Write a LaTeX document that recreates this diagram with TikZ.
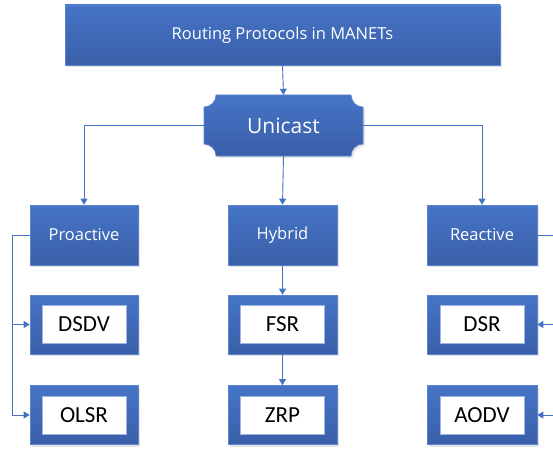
\documentclass[tikz,border=0pt]{standalone}
\usepackage{fontspec}
\setmainfont{Open Sans}
\newfontfamily\leaffont{Carlito}
\usetikzlibrary{arrows.meta,shadows}
\definecolor{conn}{HTML}{4472C4}
\definecolor{boxtop}{HTML}{4674C6}
\definecolor{boxbot}{HTML}{3A5FA9}
\definecolor{boxedge}{HTML}{5A84CE}
\tikzset{
  x=1pt, y=-1pt,
  bluebox/.style={rectangle, draw=boxedge, line width=0.6pt, top color=boxtop, bottom color=boxbot,
    drop shadow={shadow xshift=2pt, shadow yshift=-2pt, fill=gray!60, opacity=0.35},
    text=white, align=center, inner sep=0pt},
  catbox/.style={bluebox, minimum width=108pt, minimum height=60pt, font=\fontsize{16.5}{19}\selectfont},
  leafouter/.style={bluebox, minimum width=108pt, minimum height=59pt},
  leafinner/.style={rectangle, fill=white, draw=boxedge!60, line width=0.4pt, minimum width=84pt, minimum height=38pt,
    inner sep=0pt, text=black, font=\leaffont\fontsize{23}{26}\selectfont},
  conline/.style={draw=conn, line width=0.9pt},
  conarrow/.style={conline, -{Triangle[width=7pt,length=6pt]}}
}
\begin{document}
\begin{tikzpicture}
\useasboundingbox (0,0) rectangle (553,449);
\clip (0,0) rectangle (553,449);
% top
\node[bluebox, minimum width=435pt, minimum height=60pt, font=\fontsize{16.5}{19}\selectfont] (top) at (282.5,35) {Routing Protocols in MANETs};
% unicast plaque
\node[minimum width=159pt, minimum height=61pt, inner sep=0pt] (uni) at (283.5,125.5) {};
\shade[top color=boxtop, bottom color=boxbot, draw=boxedge, line width=0.6pt,
  drop shadow={shadow xshift=2pt, shadow yshift=-2pt, fill=gray!60, opacity=0.35}]
  (204,107) arc[start angle=90, end angle=0, radius=12] -- (351,95)
  arc[start angle=180, end angle=90, radius=12] -- (363,144)
  arc[start angle=270, end angle=180, radius=12] -- (216,156)
  arc[start angle=0, end angle=-90, radius=12] -- cycle;
\node[text=white, font=\fontsize{21}{24}\selectfont] at (uni) {Unicast};
% categories
\node[catbox] (pro) at (84,235) {Proactive};
\node[catbox, minimum width=109pt] (hyb) at (282.5,235) {Hybrid};
\node[catbox, minimum width=110pt] (rea) at (482,235) {Reactive};
% leaves
\node[leafouter] (dsdv) at (84,324.5) {};
\node[leafinner] at (dsdv) {DSDV};
\node[leafouter] (olsr) at (84,415) {};
\node[leafinner] at (olsr) {OLSR};
\node[leafouter, minimum width=109pt] (fsr) at (282.5,324.5) {};
\node[leafinner] at (fsr) {FSR};
\node[leafouter, minimum width=109pt] (zrp) at (282.5,415) {};
\node[leafinner] at (zrp) {ZRP};
\node[leafouter, minimum width=110pt] (dsr) at (482,324.5) {};
\node[leafinner] at (dsr) {DSR};
\node[leafouter, minimum width=110pt] (aodv) at (482,415) {};
\node[leafinner] at (aodv) {AODV};
% connectors
\draw[conarrow] (top.south) -- (uni.north);
\draw[conarrow] (uni.west) -| (pro.north);
\draw[conarrow] (uni.east) -| (rea.north);
\draw[conarrow] (uni.south) -- (hyb.north);
\draw[conarrow] (hyb.south) -- (fsr.north);
\draw[conarrow] (fsr.south) -- (zrp.north);
\coordinate (pl) at (12,235);
\coordinate (pr) at (556,235);
\draw[conline] (pro.west) -- (pl);
\draw[conarrow] (pl) |- (dsdv.west);
\draw[conarrow] (pl) |- (olsr.west);
\draw[conline] (rea.east) -- (pr);
\draw[conarrow] (pr) |- (dsr.east);
\draw[conarrow] (pr) |- (aodv.east);
\end{tikzpicture}
\end{document}
